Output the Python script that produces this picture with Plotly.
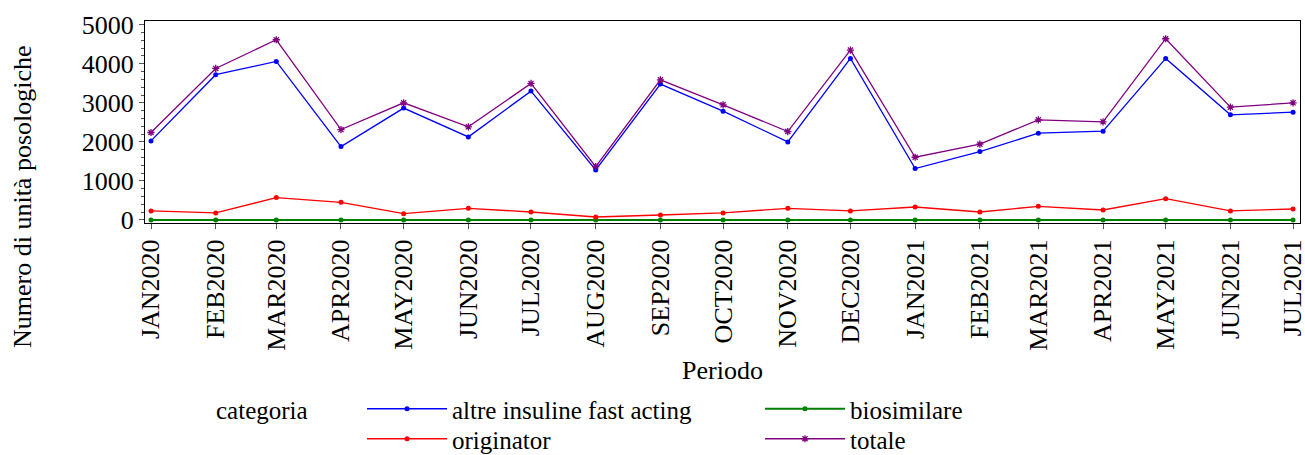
import plotly.graph_objects as go

months = ["2020-01-01", "2020-02-01", "2020-03-01", "2020-04-01", "2020-05-01", "2020-06-01",
          "2020-07-01", "2020-08-01", "2020-09-01", "2020-10-01", "2020-11-01", "2020-12-01",
          "2021-01-01", "2021-02-01", "2021-03-01", "2021-04-01", "2021-05-01", "2021-06-01",
          "2021-07-01"]
tick_labels = ["JAN2020", "FEB2020", "MAR2020", "APR2020", "MAY2020", "JUN2020", "JUL2020",
               "AUG2020", "SEP2020", "OCT2020", "NOV2020", "DEC2020", "JAN2021", "FEB2021",
               "MAR2021", "APR2021", "MAY2021", "JUN2021", "JUL2021"]

altre = [2025, 3720, 4060, 1880, 2865, 2128, 3300, 1282, 3480, 2786, 2000, 4137,
         1316, 1752, 2222, 2274, 4137, 2692, 2761]
originator = [231, 180, 573, 453, 162, 299, 205, 77, 128, 180, 299, 231,
              333, 205, 350, 256, 547, 231, 282]
biosimilare = [0, 0, 0, 0, 0, 0, 0, 0, 0, 0, 0, 0, 0, 0, 0, 0, 0, 0, 0]
totale = [2240, 3880, 4615, 2316, 3000, 2385, 3496, 1368, 3590, 2949, 2265, 4350,
          1607, 1940, 2564, 2513, 4641, 2889, 3000]

FONT = "Liberation Serif, Times New Roman, serif"
FS = 26
LFS = 25

# page body margin is removed below, so figure pixels == screen pixels
OFF = 0
W, H = 1305 - OFF, 455 - OFF
# plot area in screen pixels: left 145, right 1300, top 21, bottom 223
PL, PR, PT, PB = 145 - OFF, 1300 - OFF, 21 - OFF, 223 - OFF
pw, ph = PR - PL, PB - PT


def px(xs):
    return (xs - OFF - PL) / pw


def py(ys):
    return (PB - (ys - OFF)) / ph


fig = go.Figure()
fig.add_trace(go.Scatter(x=months, y=altre, name="altre insuline fast acting", mode="lines+markers",
                         line=dict(color="#0000FF", width=1.3), marker=dict(color="#0000FF", size=5),
                         legend="legend"))
fig.add_trace(go.Scatter(x=months, y=biosimilare, name="biosimilare", mode="lines+markers",
                         line=dict(color="#008000", width=2), marker=dict(color="#008000", size=5),
                         legend="legend"))
fig.add_trace(go.Scatter(x=months, y=originator, name="originator", mode="lines+markers",
                         line=dict(color="#FF0000", width=1.3), marker=dict(color="#FF0000", size=5),
                         legend="legend2"))
fig.add_trace(go.Scatter(x=months, y=totale, name="totale", mode="lines+markers",
                         line=dict(color="#800080", width=1.3),
                         marker=dict(symbol="asterisk-open", size=6, color="#800080",
                                     line=dict(color="#800080", width=1.3)),
                         legend="legend2"))

legend_common = dict(orientation="h", xanchor="left", yanchor="top",
                     entrywidth=303, entrywidthmode="pixels",
                     font=dict(family=FONT, size=LFS), tracegroupgap=0,
                     itemwidth=80, bgcolor="rgba(0,0,0,0)")

fig.update_layout(
    width=W, height=H,
    margin=dict(l=PL, r=W - PR, t=PT, b=H - PB, autoexpand=False),
    paper_bgcolor="white", plot_bgcolor="white",
    font=dict(family=FONT, size=FS, color="black"),
    showlegend=True,
    legend=dict(x=px(362), y=py(386), **legend_common),
    legend2=dict(x=px(362), y=py(416), **legend_common),
    annotations=[
        dict(text="categoria", xref="paper", yref="paper", x=px(214), y=py(410),
             xanchor="left", yanchor="middle", showarrow=False,
             font=dict(family=FONT, size=25)),
        dict(text="Numero di unità posologiche", xref="paper", yref="paper",
             x=px(22), y=py(197), xanchor="center", yanchor="middle", textangle=-90,
             showarrow=False, font=dict(family=FONT, size=FS)),
        dict(text="Periodo", xref="paper", yref="paper", x=0.5, y=py(370),
             xanchor="center", yanchor="middle", showarrow=False,
             font=dict(family=FONT, size=FS)),
    ],
)

fig.update_xaxes(
    type="date",
    range=["2019-12-29 03:00", "2021-07-04 08:00"],
    tickvals=months, ticktext=tick_labels, tickangle=-90,
    ticks="outside", ticklen=5, tickcolor="#555555",
    ticklabeloverflow="allow",
    showline=True, linecolor="black", linewidth=1, mirror=True,
    showgrid=False, zeroline=False,
    tickfont=dict(family=FONT, size=FS),
)
fig.update_yaxes(
    range=[-77, 5095],
    tickvals=[0, 1000, 2000, 3000, 4000, 5000],
    ticks="outside", ticklen=5, tickcolor="#555555",
    minor=dict(dtick=200, ticks="outside", ticklen=3, tickcolor="#555555"),
    showline=True, linecolor="black", linewidth=1, mirror=True,
    showgrid=False, zeroline=False,
    tickfont=dict(family=FONT, size=FS),
)

fig.write_html("out.html",
               config={"displayModeBar": False},
               post_script="document.body.style.margin='0';document.body.style.overflow='hidden';")
